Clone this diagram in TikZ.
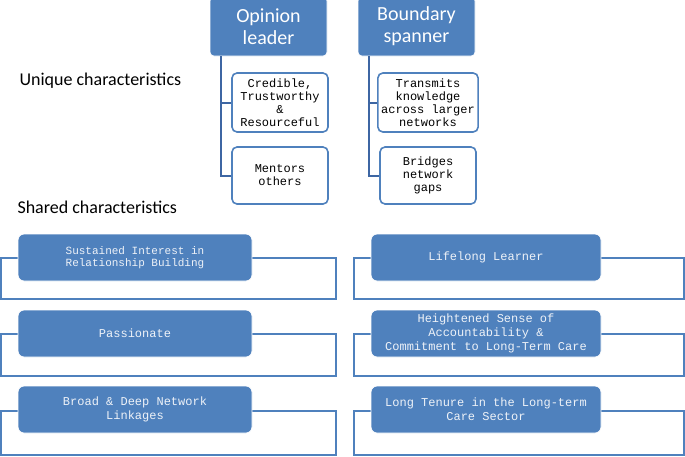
\documentclass[tikz,border=0pt]{standalone}
\usepackage{fontspec}
\setmainfont{Carlito}
\setmonofont{Liberation Mono}
\usepackage{tikz}
\usetikzlibrary{arrows}
\definecolor{boxblue}{HTML}{4F81BD}
\definecolor{linkblue}{HTML}{3D66A3}
\definecolor{paleblue}{HTML}{EEF2F8}

\begin{document}
\begin{tikzpicture}[x=1pt, y=-1pt,
    role/.style={rectangle, rounded corners=4pt, fill=boxblue, draw=white, line width=0.6pt,
      text=white, align=center, minimum width=117pt, minimum height=59pt,
      font=\fontsize{20}{22}\selectfont},
    trait/.style={rectangle, rounded corners=5pt, fill=white, draw=boxblue, line width=1.6pt,
      align=center, minimum width=96pt, font=\ttfamily\fontsize{12}{13}\selectfont},
    shared/.style={rectangle, rounded corners=6pt, fill=boxblue, draw=white, line width=0.8pt,
      text=paleblue, align=center, minimum height=47pt, font=\ttfamily\fontsize{12}{14}\selectfont},
    link/.style={draw=linkblue, line width=2pt},
    frame/.style={draw=boxblue, line width=2pt},
    heading/.style={anchor=west, font=\fontsize{18}{20}\selectfont}]
  \useasboundingbox (0,0) rectangle (685,456);

  % unique characteristics
  \node [role] (OL) at (268.5, 26.5) {Opinion\\leader};
  \node [role] (BS) at (416.5, 26.5) {Boundary\\spanner};
  \node [trait, minimum height=59pt] (OL1) at (280, 102.5) {Credible,\\Trustworthy\\\&\\Resourceful};
  \node [trait, minimum height=57pt] (OL2) at (280, 175.5) {Mentors\\others};
  \node [trait, minimum height=59pt] (BS1) at (428, 102.5) {Transmits\\knowledge\\across larger\\networks};
  \node [trait, minimum height=57pt] (BS2) at (428, 175.5) {Bridges\\network\\gaps};
  \coordinate (OLs) at (221, 56);
  \coordinate (BSs) at (369, 56);
  \draw [link] (OLs) |- (OL2.west);
  \draw [link] (OLs) |- (OL1.west);
  \draw [link] (BSs) |- (BS2.west);
  \draw [link] (BSs) |- (BS1.west);

  \node [heading] (UC) at (16, 81) {Unique characteristics};
  \node [heading] (SC) at (14, 207) {Shared characteristics};

  % shared characteristics
  \draw [frame] (1, 257.5) rectangle (336, 299);
  \draw [frame] (354, 257.5) rectangle (684, 299);
  \draw [frame] (1, 333.5) rectangle (336, 376);
  \draw [frame] (354, 333.5) rectangle (684, 376);
  \draw [frame] (1, 411) rectangle (336, 455);
  \draw [frame] (354, 411) rectangle (684, 455);
  \node [shared, minimum width=234pt, font=\ttfamily\fontsize{11}{12.7}\selectfont] (SL1) at (135, 257.5)
    {Sustained Interest in\\Relationship Building};
  \node [shared, minimum width=234pt] (SL2) at (135, 333.5) {Passionate};
  \node [shared, minimum width=234pt] (SL3) at (135, 409.5) {Broad \& Deep Network\\Linkages};
  \node [shared, minimum width=230pt] (SR1) at (486, 257.5) {Lifelong Learner};
  \node [shared, minimum width=230pt] (SR2) at (486, 333.5)
    {Heightened Sense of\\Accountability \&\\Commitment to Long-Term Care};
  \node [shared, minimum width=230pt] (SR3) at (486, 409.5) {Long Tenure in the Long-term\\Care Sector};
\end{tikzpicture}
\end{document}
